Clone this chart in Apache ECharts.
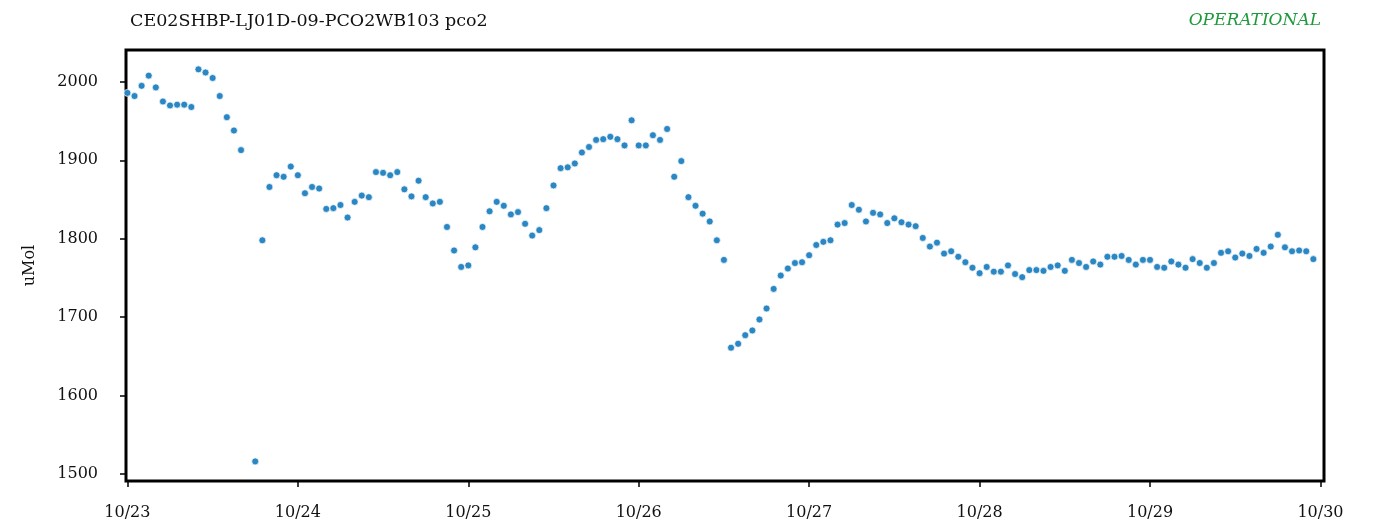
<!DOCTYPE html>
<html>
<head>
<meta charset="utf-8">
<script src="https://cdn.jsdelivr.net/npm/echarts@6/dist/echarts.min.js"></script>
<style>
  html, body { margin: 0; padding: 0; background: #fff; }
  #main { width: 1373px; height: 526px; }
</style>
</head>
<body>
<div id="main"></div>
<script>
// pco2 readings, one per hour from 10/23 00:00 (null = no reading)
var startTime = '2023-10-23T00:00:00'
var pco2 = [
  1986, 1982, 1995, 2008, 1993, 1975, 1970, 1971, 1971, 1968, 2016, 2012, 2005, 1982, 1955, 1938, 1913, null, 1516, 1798, 1866, 1881, 1879, 1892,
  1881, 1858, 1866, 1864, 1838, 1839, 1843, 1827, 1847, 1855, 1853, 1885, 1884, 1881, 1885, 1863, 1854, 1874, 1853, 1845, 1847, 1815, 1785, 1764,
  1766, 1789, 1815, 1835, 1847, 1842, 1831, 1834, 1819, 1804, 1811, 1839, 1868, 1890, 1891, 1896, 1910, 1917, 1926, 1927, 1930, 1927, 1919, 1951,
  1919, 1919, 1932, 1926, 1940, 1879, 1899, 1853, 1842, 1832, 1822, 1798, 1773, 1661, 1666, 1677, 1683, 1697, 1711, 1736, 1753, 1762, 1769, 1770,
  1779, 1792, 1796, 1798, 1818, 1820, 1843, 1837, 1822, 1833, 1831, 1820, 1826, 1821, 1818, 1816, 1801, 1790, 1795, 1781, 1784, 1777, 1770, 1763,
  1756, 1764, 1758, 1758, 1766, 1755, 1751, 1760, 1760, 1759, 1764, 1766, 1759, 1773, 1769, 1764, 1771, 1767, 1777, 1777, 1778, 1773, 1767, 1773,
  1773, 1764, 1763, 1771, 1767, 1763, 1774, 1769, 1763, 1769, 1782, 1784, 1776, 1781, 1778, 1787, 1782, 1790, 1805, 1789, 1784, 1785, 1784, 1774
]
var yTicks = [1500, 1600, 1700, 1800, 1900, 2000]
var dayLabels = ['10/23', '10/24', '10/25', '10/26', '10/27', '10/28', '10/29', '10/30']

var t0 = new Date(startTime).getTime()
var HOUR = 3600 * 1000
var points = []
for (let i = 0; i < pco2.length; i++) {
    if (pco2[i] !== null) points.push([t0 + i * HOUR, pco2[i]])
}

var serif = 'DejaVu Serif'

var chart = echarts.init(document.getElementById('main'))
var option = {
    animation: false,
    backgroundColor: '#fff',
    title: [
        {
            text: 'CE02SHBP-LJ01D-09-PCO2WB103 pco2',
            left: 125,
            top: 7,
            textStyle: { fontFamily: serif, fontSize: 17.5, fontWeight: 'normal', color: '#111' }
        },
        {
            text: 'OPERATIONAL',
            right: 47,
            top: 7,
            textStyle: { fontFamily: serif, fontSize: 17, fontWeight: 'normal', fontStyle: 'italic', color: '#1e9a3c' }
        }
    ],
    grid: {
        left: 126,
        right: 49,
        top: 50,
        bottom: 45,
        show: true,
        borderColor: '#000',
        borderWidth: 3,
        backgroundColor: '#fff'
    },
    xAxis: {
        type: 'time',
        min: t0 - 0.2 * HOUR,
        max: t0 + 168.5 * HOUR,
        minInterval: 24 * HOUR,
        maxInterval: 24 * HOUR,
        splitLine: { show: false },
        axisLine: { show: false },
        axisTick: { show: true, length: 6, lineStyle: { color: '#000', width: 1.5 } },
        axisLabel: {
            fontFamily: serif,
            fontSize: 16,
            fontWeight: 'normal',
            color: '#111',
            margin: 24,
            hideOverlap: false,
            formatter: function (val) {
                var idx = Math.round((val - t0) / (24 * HOUR))
                return dayLabels[idx] || ''
            }
        }
    },
    yAxis: {
        type: 'value',
        min: 1491,
        max: 2040.7,
        name: 'uMol',
        nameLocation: 'middle',
        nameGap: 88,
        nameTextStyle: { fontFamily: serif, fontSize: 16, color: '#111' },
        splitLine: { show: false },
        axisLine: { show: false },
        axisTick: { show: true, length: 6, customValues: yTicks, lineStyle: { color: '#000', width: 1.5 } },
        axisLabel: {
            fontFamily: serif,
            fontSize: 16,
            color: '#111',
            margin: 28,
            customValues: yTicks,
            formatter: function (v) { return String(v) }
        }
    },
    series: [
        {
            type: 'scatter',
            data: points,
            symbol: 'circle',
            symbolSize: 7,
            itemStyle: {
                color: '#2b87c4',
                borderColor: 'rgba(255,255,255,0.7)',
                borderWidth: 1,
                opacity: 1
            }
        }
    ]
}
chart.setOption(option)
</script>
</body>
</html>
